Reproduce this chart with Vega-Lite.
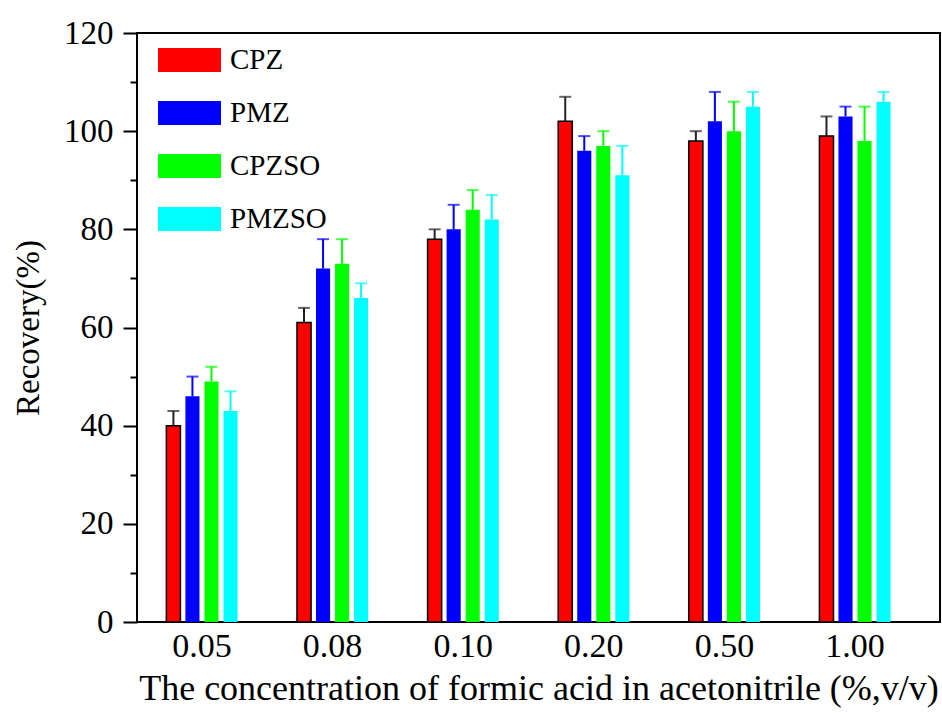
{
  "$schema": "https://vega.github.io/schema/vega-lite/v6.json",
  "width": 803,
  "height": 589,
  "autosize": {"type": "none"},
  "padding": {"left": 137, "top": 33, "right": 2, "bottom": 91},
  "background": "white",
  "config": {
    "view": {"stroke": "black", "strokeWidth": 2},
    "font": "Liberation Serif"
  },
  "data": {
    "values": [
      {"conc": "0.05", "compound": "CPZ", "value": 40, "upper": 43},
      {"conc": "0.05", "compound": "PMZ", "value": 46, "upper": 50},
      {"conc": "0.05", "compound": "CPZSO", "value": 49, "upper": 52},
      {"conc": "0.05", "compound": "PMZSO", "value": 43, "upper": 47},
      {"conc": "0.08", "compound": "CPZ", "value": 61, "upper": 64},
      {"conc": "0.08", "compound": "PMZ", "value": 72, "upper": 78},
      {"conc": "0.08", "compound": "CPZSO", "value": 73, "upper": 78},
      {"conc": "0.08", "compound": "PMZSO", "value": 66, "upper": 69},
      {"conc": "0.10", "compound": "CPZ", "value": 78, "upper": 80},
      {"conc": "0.10", "compound": "PMZ", "value": 80, "upper": 85},
      {"conc": "0.10", "compound": "CPZSO", "value": 84, "upper": 88},
      {"conc": "0.10", "compound": "PMZSO", "value": 82, "upper": 87},
      {"conc": "0.20", "compound": "CPZ", "value": 102, "upper": 107},
      {"conc": "0.20", "compound": "PMZ", "value": 96, "upper": 99},
      {"conc": "0.20", "compound": "CPZSO", "value": 97, "upper": 100},
      {"conc": "0.20", "compound": "PMZSO", "value": 91, "upper": 97},
      {"conc": "0.50", "compound": "CPZ", "value": 98, "upper": 100},
      {"conc": "0.50", "compound": "PMZ", "value": 102, "upper": 108},
      {"conc": "0.50", "compound": "CPZSO", "value": 100, "upper": 106},
      {"conc": "0.50", "compound": "PMZSO", "value": 105, "upper": 108},
      {"conc": "1.00", "compound": "CPZ", "value": 99, "upper": 103},
      {"conc": "1.00", "compound": "PMZ", "value": 103, "upper": 105},
      {"conc": "1.00", "compound": "CPZSO", "value": 98, "upper": 105},
      {"conc": "1.00", "compound": "PMZSO", "value": 106, "upper": 108}
    ]
  },
  "encoding": {
    "x": {
      "field": "conc",
      "type": "nominal",
      "sort": ["0.05", "0.08", "0.10", "0.20", "0.50", "1.00"],
      "scale": {"paddingInner": 0.42, "paddingOuter": 0.284, "align": 0.365},
      "axis": {
        "title": "The concentration of formic acid in acetonitrile (%,v/v)",
        "titleFont": "Liberation Serif",
        "titleFontSize": 36,
        "titleFontWeight": "normal",
        "titleColor": "black",
        "titlePadding": 8,
        "labelFont": "Liberation Serif",
        "labelFontSize": 34,
        "labelColor": "black",
        "labelAngle": 0,
        "labelPadding": 7,
        "ticks": false,
        "domain": false
      }
    },
    "xOffset": {
      "field": "compound",
      "type": "nominal",
      "sort": ["CPZ", "PMZ", "CPZSO", "PMZSO"],
      "scale": {"paddingInner": 0.26, "paddingOuter": 0.12}
    }
  },
  "layer": [
    {
      "mark": {"type": "rule", "strokeWidth": 2},
      "encoding": {
        "y": {"field": "value", "type": "quantitative"},
        "y2": {"field": "upper"},
        "color": {
          "condition": [
            {"test": "datum.compound === 'CPZ'", "value": "#222222"},
            {"test": "datum.compound === 'PMZ'", "value": "#0000FF"},
            {"test": "datum.compound === 'CPZSO'", "value": "#00FF00"}
          ],
          "value": "#00FFFF"
        }
      }
    },
    {
      "mark": {"type": "tick", "thickness": 2, "size": 12},
      "encoding": {
        "y": {"field": "upper", "type": "quantitative"},
        "color": {
          "condition": [
            {"test": "datum.compound === 'CPZ'", "value": "#222222"},
            {"test": "datum.compound === 'PMZ'", "value": "#0000FF"},
            {"test": "datum.compound === 'CPZSO'", "value": "#00FF00"}
          ],
          "value": "#00FFFF"
        }
      }
    },
    {
      "mark": {"type": "bar", "strokeWidth": 1.5},
      "encoding": {
        "y": {
          "field": "value",
          "type": "quantitative",
          "scale": {"domain": [0, 120], "nice": false},
          "axis": {
            "title": "Recovery(%)",
            "titleFont": "Liberation Serif",
            "titleFontSize": 33,
            "titleFontWeight": "normal",
            "titleColor": "black",
            "titlePadding": 18,
            "labelFont": "Liberation Serif",
            "labelFontSize": 33,
            "labelColor": "black",
            "values": [0, 10, 20, 30, 40, 50, 60, 70, 80, 90, 100, 110, 120],
            "labelExpr": "datum.value % 20 === 0 ? datum.label : ''",
            "tickSize": {"condition": {"test": "datum.value % 20 !== 0", "value": 7}, "value": 14},
            "tickColor": "black",
            "tickWidth": 2,
            "labelPadding": 10,
            "domain": false,
            "grid": false
          }
        },
        "fill": {
          "field": "compound",
          "type": "nominal",
          "scale": {"domain": ["CPZ", "PMZ", "CPZSO", "PMZSO"], "range": ["#FF0000", "#0000FF", "#00FF00", "#00FFFF"]},
          "legend": {
            "title": null,
            "orient": "none",
            "legendX": 20,
            "legendY": 13,
            "symbolType": "M-1,-0.38H1V0.38H-1Z",
            "symbolSize": 3969,
            "labelFont": "Liberation Serif",
            "labelFontSize": 29,
            "labelColor": "black",
            "labelOffset": 8,
            "clipHeight": 28,
            "rowPadding": 24,
            "encode": {
              "symbols": {
                "update": {
                  "stroke": {"signal": "datum.value === 'CPZ' ? 'black' : 'transparent'"},
                  "strokeWidth": {"value": 1.5}
                }
              }
            }
          }
        },
        "stroke": {
          "condition": {"test": "datum.compound === 'CPZ'", "value": "black"},
          "value": "transparent"
        }
      }
    }
  ]
}
